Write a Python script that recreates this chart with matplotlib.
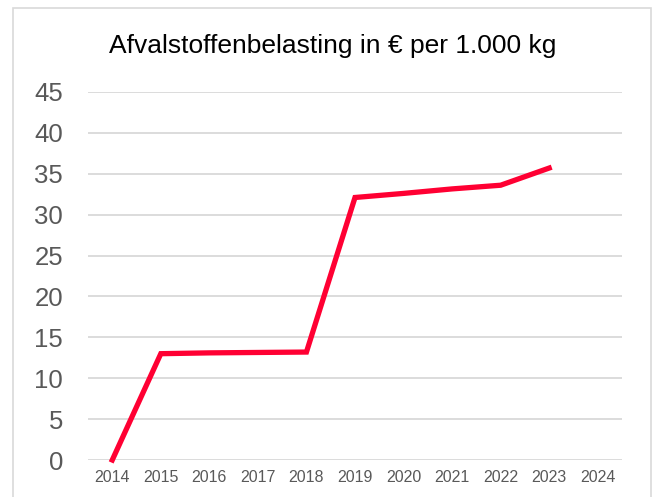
import matplotlib.pyplot as plt
from matplotlib.patches import Rectangle

plt.rcParams['font.family'] = ['Liberation Sans', 'DejaVu Sans']

jaren = ['2014', '2015', '2016', '2017', '2018', '2019', '2020', '2021', '2022', '2023', '2024']
belasting = [0.0, 13.0, 13.1, 13.15, 13.2, 32.1, 32.6, 33.15, 33.6, 35.7]
yticks = [0, 5, 10, 15, 20, 25, 30, 35, 40, 45]

fig = plt.figure(figsize=(6.55, 4.97), dpi=100)
fig.patches.append(Rectangle((13/655, -0.1), 638/655, 1.1 - 8/497,
                             transform=fig.transFigure, fill=False,
                             edgecolor='#D9D9D9', linewidth=1.2))

ax = fig.add_axes([88/655, 1 - 460/497, 534/655, 368/497])
x = list(range(len(belasting)))
ax.plot(x, belasting, color='#FF0033', linewidth=3.8, solid_joinstyle='miter',
        clip_on=False, zorder=3)

ax.set_xlim(-0.5, len(jaren) - 0.5)
ax.set_ylim(0, 45)
ax.set_xticks(range(len(jaren)))
ax.set_xticklabels(jaren)
ax.set_yticks(yticks)
ax.tick_params(axis='y', length=0, pad=18, labelsize=18.5, labelcolor='#595959')
ax.tick_params(axis='x', length=0, pad=7, labelsize=11.5, labelcolor='#595959')
ax.grid(axis='y', color='#D9D9D9', linewidth=1.3)
ax.set_axisbelow(True)
for s in ax.spines.values():
    s.set_visible(False)

fig.text(333/655, 1 - 53/497, 'Afvalstoffenbelasting in € per 1.000 kg',
         ha='center', va='baseline', fontsize=19, color='black')

fig.savefig('out.png', dpi=100)
